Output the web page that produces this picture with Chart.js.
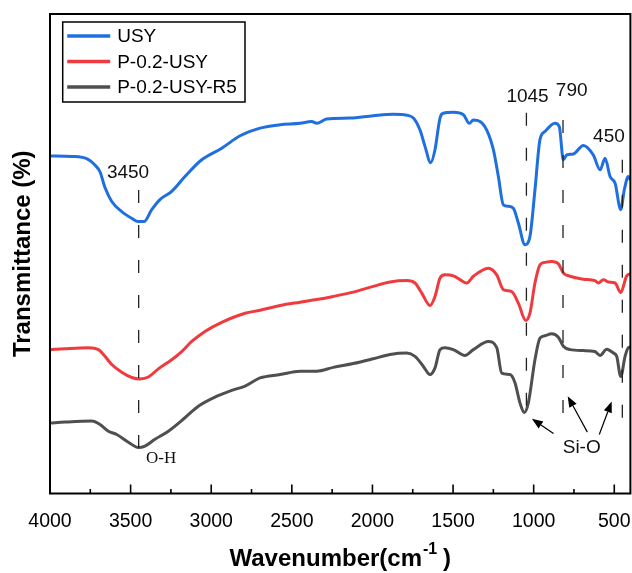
<!DOCTYPE html>
<html>
<head>
<meta charset="utf-8">
<script src="https://cdn.jsdelivr.net/npm/chart.js@4.4.0/dist/chart.umd.min.js"></script>
<style>
  html, body { margin: 0; padding: 0; background: #fff; }
</style>
</head>
<body>
<canvas id="ftirChart" width="632" height="573"></canvas>
<script>
// wavenumber (cm-1) and transmittance (arbitrary offset units)
const usyWn = [4000, 3864, 3764, 3721, 3690, 3659, 3617, 3555, 3493, 3452, 3417, 3369, 3318, 3245, 3163, 3059, 2935, 2821, 2697, 2573, 2449, 2377, 2346, 2284, 2139, 1995, 1871, 1787, 1746, 1705, 1674, 1639, 1612, 1581, 1560, 1498, 1436, 1399, 1374, 1333, 1291, 1250, 1219, 1188, 1157, 1126, 1095, 1054, 1023, 992, 961, 930, 868, 841, 816, 795, 754, 692, 630, 588, 557, 526, 495, 460, 438, 413, 400];
const usyT = [70.4, 70.3, 69.7, 68.5, 67.1, 63.8, 60.9, 58.8, 57.4, 56.7, 56.7, 59.2, 61.3, 63.0, 66.1, 69.6, 72.0, 74.6, 76.2, 76.9, 77.2, 77.6, 77.2, 78.1, 78.3, 78.8, 79.1, 78.9, 78.3, 75.8, 72.4, 69.0, 71.7, 78.3, 79.3, 79.5, 79.0, 77.2, 77.9, 77.6, 75.8, 71.7, 66.1, 60.2, 59.9, 59.5, 56.4, 51.9, 53.6, 63.3, 73.8, 75.5, 77.2, 76.5, 69.6, 70.6, 70.8, 72.6, 70.6, 67.5, 69.9, 66.1, 64.7, 59.2, 63.3, 66.1, 65.4];

const pUsyWn = [4000, 3907, 3762, 3700, 3659, 3617, 3555, 3493, 3442, 3390, 3328, 3245, 3183, 3121, 3039, 2935, 2790, 2697, 2573, 2449, 2356, 2243, 2119, 1995, 1891, 1787, 1736, 1694, 1643, 1612, 1581, 1550, 1498, 1457, 1415, 1374, 1281, 1229, 1188, 1136, 1095, 1049, 1023, 992, 961, 930, 888, 847, 816, 774, 692, 620, 599, 568, 537, 495, 460, 423, 400];
const pUsyT = [30.0, 30.2, 30.4, 30.0, 28.6, 26.9, 25.3, 24.2, 23.9, 24.3, 26.0, 27.9, 29.6, 31.7, 33.8, 35.7, 37.6, 38.2, 39.2, 39.9, 40.4, 41.1, 42.0, 43.2, 44.1, 44.4, 43.9, 41.8, 39.2, 41.1, 44.9, 45.6, 45.4, 44.6, 43.9, 45.3, 47.0, 45.6, 42.5, 42.1, 39.7, 36.1, 37.6, 43.9, 47.7, 48.2, 48.4, 47.9, 46.0, 45.3, 44.7, 44.4, 43.9, 44.6, 44.1, 43.9, 41.9, 45.4, 45.8];

const r5Wn = [4000, 3907, 3741, 3690, 3638, 3586, 3514, 3452, 3411, 3349, 3266, 3163, 3080, 2977, 2873, 2790, 2697, 2573, 2449, 2346, 2243, 2119, 1995, 1891, 1787, 1736, 1684, 1643, 1612, 1581, 1550, 1498, 1426, 1374, 1281, 1229, 1198, 1147, 1116, 1085, 1058, 1033, 992, 961, 930, 888, 847, 816, 774, 692, 620, 588, 547, 506, 485, 460, 433, 413, 400];
const r5T = [14.7, 14.9, 15.1, 14.4, 13.0, 12.3, 10.7, 9.6, 9.9, 11.3, 13.0, 15.8, 18.2, 20.1, 21.5, 22.4, 24.1, 24.8, 25.5, 25.5, 26.3, 27.1, 28.1, 29.0, 29.3, 28.6, 26.5, 24.8, 26.2, 30.0, 30.4, 30.0, 28.8, 30.0, 31.7, 30.4, 25.1, 24.8, 23.1, 18.9, 16.9, 18.9, 27.9, 32.4, 32.9, 33.3, 32.6, 30.7, 30.0, 29.8, 29.6, 28.8, 30.1, 29.3, 28.6, 24.4, 28.6, 30.4, 30.5];

const seriesNames = ['USY', 'P-0.2-USY', 'P-0.2-USY-R5'];
const seriesColors = ['#1f6fdf', '#ef3b3e', '#4f4f4f'];

const tickWn = [4000, 3750, 3500, 3250, 3000, 2750, 2500, 2250, 2000, 1750, 1500, 1250, 1000, 750, 500];

// marked bands: where the dashed line sits, its label, and its vertical span
const bandWn = [3450, 1045, 818, 450];
const bandLabels = ['3450', '1045', '790', '450'];
const bandTop = [63.3, 79.4, 77.9, 69.6];
const bandBottom = [6.5, 17.5, 13.3, 12.9];
const bandLabelWn = [3516, 1038, 764, 533];
const bandLabelT = [66.9, 82.8, 84.0, 74.5];

// Si-O arrows: [fromWn, fromT, toWn, toT]
const siArrows = [[877, 12.5, 1011, 15.6], [667, 12.8, 789, 20.3], [593, 12.3, 516, 19.2]];

const toPoints = (xs, ys) => xs.map((v, i) => ({ x: v, y: ys[i] }));
const SANS = 'Arial, "Liberation Sans", sans-serif';

function arrow(ctx, x1, y1, x2, y2) {
  const ang = Math.atan2(y2 - y1, x2 - x1);
  const hl = 11, hw = 4.2;
  const bx = x2 - hl * Math.cos(ang), by = y2 - hl * Math.sin(ang);
  ctx.beginPath();
  ctx.moveTo(x1, y1);
  ctx.lineTo(bx, by);
  ctx.stroke();
  ctx.beginPath();
  ctx.moveTo(x2, y2);
  ctx.lineTo(bx + hw * Math.sin(ang), by - hw * Math.cos(ang));
  ctx.lineTo(bx - hw * Math.sin(ang), by + hw * Math.cos(ang));
  ctx.closePath();
  ctx.fill();
}

const decorations = {
  id: 'decorations',
  afterDatasetsDraw(chart) {
    const { ctx, chartArea: a, scales: { x, y } } = chart;
    ctx.save();

    // frame + inward ticks
    ctx.strokeStyle = '#000';
    ctx.lineWidth = 2;
    ctx.strokeRect(a.left, a.top, a.right - a.left, a.bottom - a.top);
    ctx.lineWidth = 1.6;
    tickWn.forEach(v => {
      const px = x.getPixelForValue(v);
      const len = v % 500 === 0 ? 9 : 4.5;
      ctx.beginPath();
      ctx.moveTo(px, a.bottom);
      ctx.lineTo(px, a.bottom - len);
      ctx.stroke();
    });

    // dashed band markers
    ctx.setLineDash([13, 22]);
    ctx.lineWidth = 1.3;
    ctx.strokeStyle = '#222';
    bandWn.forEach((v, i) => {
      const px = x.getPixelForValue(v);
      ctx.beginPath();
      ctx.moveTo(px, y.getPixelForValue(bandTop[i]));
      ctx.lineTo(px, y.getPixelForValue(bandBottom[i]));
      ctx.stroke();
    });
    ctx.setLineDash([]);

    ctx.fillStyle = '#111';
    ctx.font = '19px ' + SANS;
    ctx.textAlign = 'center';
    ctx.textBaseline = 'middle';
    bandLabels.forEach((t, i) => {
      ctx.fillText(t, x.getPixelForValue(bandLabelWn[i]), y.getPixelForValue(bandLabelT[i]));
    });

    ctx.fillText('Si-O', x.getPixelForValue(702), y.getPixelForValue(9.6));
    ctx.font = '17px "Liberation Serif", "Times New Roman", serif';
    ctx.fillText('O-H', x.getPixelForValue(3311), y.getPixelForValue(7.2));

    ctx.strokeStyle = '#000';
    ctx.fillStyle = '#000';
    ctx.lineWidth = 1.2;
    siArrows.forEach(s => {
      arrow(ctx, x.getPixelForValue(s[0]), y.getPixelForValue(s[1]),
        x.getPixelForValue(s[2]), y.getPixelForValue(s[3]));
    });

    // legend box
    const lx = a.left + 12.7, ly = a.top + 8;
    ctx.lineWidth = 1.5;
    ctx.strokeStyle = '#000';
    ctx.strokeRect(lx, ly, 182.3, 80);
    ctx.font = '19px ' + SANS;
    ctx.textAlign = 'left';
    seriesNames.forEach((n, i) => {
      const ry = ly + 14 + i * 25.5;
      ctx.strokeStyle = seriesColors[i];
      ctx.lineWidth = 3.5;
      ctx.beginPath();
      ctx.moveTo(lx + 4.5, ry);
      ctx.lineTo(lx + 47.5, ry);
      ctx.stroke();
      ctx.fillStyle = '#000';
      ctx.fillText(n, lx + 54.5, ry + 1);
    });

    // axis titles
    ctx.fillStyle = '#000';
    ctx.textBaseline = 'alphabetic';
    const main = 'Wavenumber(cm';
    ctx.font = 'bold 24px ' + SANS;
    const w1 = ctx.measureText(main).width;
    const w3 = ctx.measureText(' )').width;
    ctx.font = 'bold 16px ' + SANS;
    const w2 = ctx.measureText('-1').width;
    let tx = (a.left + a.right) / 2 - (w1 + w2 + w3) / 2;
    const by = 566;
    ctx.font = 'bold 24px ' + SANS;
    ctx.fillText(main, tx, by);
    ctx.font = 'bold 16px ' + SANS;
    ctx.fillText('-1', tx + w1 + 1, by - 12);
    ctx.font = 'bold 24px ' + SANS;
    ctx.fillText(' )', tx + w1 + w2, by);

    ctx.translate(23, (a.top + a.bottom) / 2);
    ctx.rotate(-Math.PI / 2);
    ctx.textAlign = 'center';
    ctx.textBaseline = 'middle';
    ctx.fillText('Transmittance (%)', 0, 0);
    ctx.restore();
  }
};

const ctx = document.getElementById('ftirChart').getContext('2d');
new Chart(ctx, {
  type: 'line',
  data: {
    datasets: [
      { label: seriesNames[0], data: toPoints(usyWn, usyT), borderColor: seriesColors[0] },
      { label: seriesNames[1], data: toPoints(pUsyWn, pUsyT), borderColor: seriesColors[1] },
      { label: seriesNames[2], data: toPoints(r5Wn, r5T), borderColor: seriesColors[2] }
    ]
  },
  options: {
    responsive: false,
    animation: false,
    devicePixelRatio: 1,
    layout: { padding: { top: 14, right: 1.6, left: 0, bottom: 0 } },
    elements: {
      point: { radius: 0 },
      line: { borderWidth: 3, cubicInterpolationMode: 'monotone', fill: false }
    },
    plugins: { legend: { display: false }, tooltip: { enabled: false } },
    scales: {
      x: {
        type: 'linear',
        reverse: true,
        min: 400,
        max: 4000,
        grid: { display: false },
        border: { display: false },
        afterBuildTicks: s => { s.ticks = tickWn.filter(v => v % 500 === 0).map(v => ({ value: v })); },
        afterFit: s => { s.height = 79.5; s.paddingLeft = 0; s.paddingRight = 0; },
        ticks: {
          color: '#000', padding: 8, maxRotation: 0, autoSkip: false,
          font: { family: SANS, size: 19.5 },
          callback: v => String(v)
        }
      },
      y: {
        min: 0,
        max: 100,
        grid: { display: false },
        border: { display: false },
        ticks: { display: false },
        afterFit: s => { s.width = 50; }
      }
    }
  },
  plugins: [decorations]
});
</script>
</body>
</html>
